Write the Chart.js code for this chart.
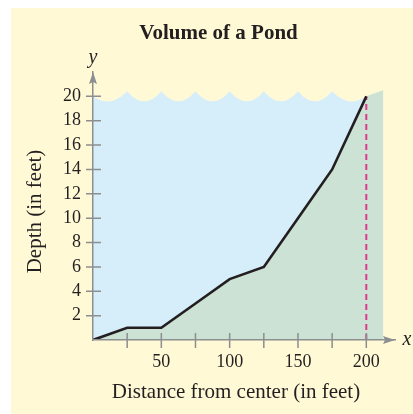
<!DOCTYPE html>
<html>
<head>
<meta charset="utf-8">
<script src="https://cdn.jsdelivr.net/npm/chart.js@4/dist/chart.umd.min.js"></script>
<style>
html,body{margin:0;padding:0;background:#fff;}
canvas{display:block;}
</style>
</head>
<body>
<canvas id="c" width="413" height="414"></canvas>
<script>
// ---- data ----
const distance = [0, 25, 50, 75, 100, 125, 150, 175, 200];   // feet from center
const depth    = [0, 1, 1, 3, 5, 6, 10, 14, 20];              // feet
const bankDistance = [212.5, 212.5];                           // shore beyond the edge
const bankDepth    = [20.5, 0];
const markerDistance = [200, 200];                             // dashed edge marker
const markerDepth    = [0, 20];
const waterLevel = 20;
const waveCrests = [25, 50, 75, 100, 125, 150, 175];
const waveCrestLevel = 20.43;
const waveTroughLevel = 19.6;
const xTickLabels = [50, 100, 150, 200];
const xTickMarks  = [25, 50, 75, 100, 125, 150, 175, 200];
const yTickLabels = [2, 4, 6, 8, 10, 12, 14, 16, 18, 20];
const titleText = 'Volume of a Pond';
const xTitle = 'Distance from center (in feet)';
const yTitle = 'Depth (in feet)';

const INK = '#231f20', AXIS = '#8c8e90';
const YELLOW = '#fff9d6', BLUE = '#d6eefa', GREEN = '#cce2d5', MAGENTA = '#e0388c';
const SERIF = '"Liberation Serif", "Times New Roman", serif';

const pts = (xs, ys) => xs.map((x, i) => ({x, y: ys[i]}));

const pondPlugin = {
  id: 'pond',
  beforeDraw(chart) {
    const ctx = chart.ctx;
    ctx.save();
    ctx.fillStyle = '#ffffff';
    ctx.fillRect(0, 0, chart.width, chart.height);
    ctx.fillStyle = YELLOW;
    ctx.fillRect(11, 8, chart.width - 11, chart.height - 8);
    ctx.restore();
  },
  beforeDatasetsDraw(chart) {
    const ctx = chart.ctx, xs = chart.scales.x, ys = chart.scales.y;
    const X = v => xs.getPixelForValue(v), Y = v => ys.getPixelForValue(v);
    ctx.save();
    ctx.fillStyle = BLUE;
    ctx.beginPath();
    ctx.moveTo(X(0), Y(0));
    ctx.lineTo(X(0), Y(waterLevel));
    const stops = [[0, waterLevel]].concat(waveCrests.map(c => [c, waveCrestLevel]), [[distance[distance.length-1], waterLevel]]);
    for (let i = 1; i < stops.length; i++) {
      const [x0, y0] = stops[i-1], [x1, y1] = stops[i];
      const mid = (x0 + x1) / 2;
      const cy = (4 * Y(waveTroughLevel) - Y(y0) - Y(y1)) / 2;
      ctx.quadraticCurveTo(X(mid), cy, X(x1), Y(y1));
    }
    ctx.lineTo(X(distance[distance.length-1]), Y(0));
    ctx.closePath();
    ctx.fill();
    ctx.restore();
  },
  afterDraw(chart) {
    const ctx = chart.ctx, xs = chart.scales.x, ys = chart.scales.y, a = chart.chartArea;
    const X = v => xs.getPixelForValue(v), Y = v => ys.getPixelForValue(v);
    const x0 = X(0), y0 = Y(0);
    ctx.save();
    ctx.strokeStyle = AXIS; ctx.fillStyle = AXIS; ctx.lineWidth = 1.5;
    ctx.beginPath();
    yTickLabels.forEach(v => { ctx.moveTo(x0 - 7, Y(v)); ctx.lineTo(x0 + 8, Y(v)); });
    xTickMarks.forEach(v => { ctx.moveTo(X(v), y0 - 7); ctx.lineTo(X(v), y0 + 8); });
    ctx.stroke();
    // arrowheads
    ctx.beginPath();
    ctx.moveTo(x0, a.top); ctx.lineTo(x0 - 4, a.top + 12); ctx.lineTo(x0, a.top + 10); ctx.lineTo(x0 + 4, a.top + 12); ctx.closePath();
    ctx.fill();
    ctx.beginPath();
    ctx.moveTo(a.right, y0); ctx.lineTo(a.right - 12, y0 - 4); ctx.lineTo(a.right - 10, y0); ctx.lineTo(a.right - 12, y0 + 4); ctx.closePath();
    ctx.fill();
    // texts
    ctx.fillStyle = INK;
    ctx.textAlign = 'center';
    ctx.textBaseline = 'alphabetic';
    ctx.font = 'bold 21px ' + SERIF;
    ctx.fillText(titleText, 218.5, 39);
    ctx.font = '21px ' + SERIF;
    ctx.fillText(xTitle, 236, 398);
    ctx.save();
    ctx.translate(41, 211.5);
    ctx.rotate(-Math.PI / 2);
    ctx.fillText(yTitle, 0, 0);
    ctx.restore();
    ctx.font = 'italic 20px ' + SERIF;
    ctx.fillText('y', x0, 62.5);
    ctx.fillText('x', 407, 345);
    ctx.restore();
  }
};

new Chart(document.getElementById('c'), {
  type: 'line',
  data: {
    datasets: [
      {
        data: pts(distance, depth).concat(pts(bankDistance, bankDepth)),
        fill: 'origin', backgroundColor: GREEN, borderWidth: 0, borderColor: 'rgba(0,0,0,0)',
        pointRadius: 0, tension: 0, order: 3
      },
      {
        data: pts(markerDistance, markerDepth),
        fill: false, borderColor: MAGENTA, borderWidth: 2, borderDash: [6, 4],
        pointRadius: 0, order: 2
      },
      {
        data: pts(distance, depth),
        fill: false, borderColor: INK, borderWidth: 2.6, pointRadius: 0, tension: 0, order: 1
      }
    ]
  },
  options: {
    responsive: false,
    animation: false,
    devicePixelRatio: 1,
    layout: { padding: { left: 0, top: 72, right: 18, bottom: 0 } },
    plugins: { legend: { display: false }, title: { display: false }, tooltip: { enabled: false } },
    scales: {
      x: {
        type: 'linear', min: 0, max: 221,
        grid: { display: false, drawTicks: false },
        border: { display: true, color: AXIS, width: 1.5, z: 1 },
        ticks: { color: INK, font: { family: SERIF, size: 18 }, padding: 11, autoSkip: false, maxRotation: 0 },
        afterBuildTicks: s => { s.ticks = xTickLabels.map(v => ({ value: v })); },
        afterFit: s => { s.height = 74; s.paddingLeft = 0; s.paddingRight = 0; }
      },
      y: {
        type: 'linear', min: 0, max: 22,
        grid: { display: false, drawTicks: false },
        border: { display: true, color: AXIS, width: 1.5, z: 1 },
        ticks: { color: INK, font: { family: SERIF, size: 18 }, padding: 12, autoSkip: false },
        afterBuildTicks: s => { s.ticks = yTickLabels.map(v => ({ value: v })); },
        afterFit: s => { s.width = 93; s.paddingTop = 0; s.paddingBottom = 0; }
      }
    }
  },
  plugins: [pondPlugin]
});
</script>
</body>
</html>
